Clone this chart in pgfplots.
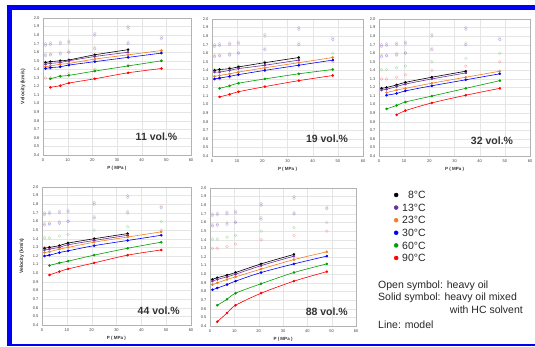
\documentclass[border=0pt]{standalone}
\usepackage{fontspec}
\setmainfont{Liberation Sans}
\usepackage{pgfplots}
\pgfplotsset{compat=1.18}
\definecolor{cPur}{RGB}{112,48,160}
\definecolor{cOra}{RGB}{240,128,32}
\definecolor{cBlu}{RGB}{0,0,255}
\definecolor{cGre}{RGB}{0,160,0}
\definecolor{cRed}{RGB}{255,0,0}
\definecolor{frameblue}{RGB}{0,0,245}

\pgfplotsset{
 panel/.style={
  scale only axis, width=148pt, height=137pt,
  xmin=0,xmax=60, ymin=0.4,ymax=2.0,
  xtick={0,10,20,30,40,50,60},
  ytick={0.4,0.5,0.6,0.7,0.8,0.9,1.0,1.1,1.2,1.3,1.4,1.5,1.6,1.7,1.8,1.9,2.0},
  grid=major, grid style={gray!20, line width=0.3pt},
  axis line style={gray!60, line width=0.4pt},
  tick style={draw=none},
  ticklabel style={font=\fontsize{4}{4}\selectfont, text=black!75},
  y tick label style={/pgf/number format/.cd, fixed, fixed zerofill, precision=1},
  /pgf/number format/assume math mode=true,
  xlabel={P ( MPa )},
  xlabel style={font=\fontsize{4.5}{5}\selectfont\bfseries, text=black!80, at={(axis description cs:0.5,-0.095)}, anchor=center},
  ylabel style={font=\fontsize{5}{6}\selectfont\bfseries, text=black!80, at={(axis description cs:-0.135,0.5)}, anchor=center, rotate=0},
  anchor=north west,
 },
}
\tikzset{vlab/.style={font=\fontsize{10.5}{12}\selectfont\bfseries, text=black!80}}

\newcommand{\openoil}{%
 \addplot[only marks, mark=o, mark size=1.4pt, cPur!60!gray, opacity=0.3, forget plot] coordinates {(1,1.70)(3,1.71)(7,1.72)(10.5,1.73)(21,1.82)(34.5,1.90)};
 \addplot[only marks, mark=o, mark size=1.4pt, cPur, opacity=0.3, forget plot] coordinates {(1,1.68)(3,1.69)(7,1.70)(10.5,1.71)(21,1.80)(34.5,1.88)};
 \addplot[only marks, mark=o, mark size=1.4pt, cOra, opacity=0.3, forget plot] coordinates {(1,1.58)(3,1.58)(7,1.60)(10.5,1.61)(21,1.66)(34.5,1.72)(48,1.78)};
 \addplot[only marks, mark=o, mark size=1.4pt, cBlu, opacity=0.3, forget plot] coordinates {(1,1.56)(3,1.57)(7,1.58)(10.5,1.60)(21,1.64)(34.5,1.70)(48,1.76)};
 \addplot[only marks, mark=o, mark size=1.4pt, cGre, opacity=0.3, forget plot] coordinates {(1,1.41)(3,1.41)(7,1.43)(10.5,1.45)(21,1.50)(34.5,1.54)(48,1.60)};
 \addplot[only marks, mark=o, mark size=1.4pt, cRed, opacity=0.3, forget plot] coordinates {(1,1.30)(3,1.30)(7,1.32)(10.5,1.35)(21,1.40)(34.5,1.45)(48,1.50)};
}
\newcommand{\ser}[2]{%
 \addplot[#1, line width=0.6pt, smooth, forget plot] coordinates {#2};
 \addplot[#1, only marks, mark=*, mark size=1.1pt] coordinates {#2};
}

\begin{document}
\begin{tikzpicture}
\useasboundingbox (0pt,0pt) rectangle (535pt,347pt);
\fill[white] (0pt,0pt) rectangle (535pt,347pt);
\fill[frameblue] (7pt,337pt) rectangle (535pt,342pt);
\fill[frameblue] (7pt,1pt) rectangle (12pt,342pt);
\fill[frameblue] (7pt,1pt) rectangle (535pt,2.5pt);

% Panel 1: 11 vol.%
\begin{axis}[panel, at={(43pt,329pt)}, ylabel={Velocity (km/s)}]
\openoil
\ser{black}{(1,1.48)(3,1.49)(7,1.50)(10.5,1.51)(21,1.57)(34.5,1.63)}
\ser{cPur}{(1,1.46)(3,1.47)(7,1.48)(10.5,1.50)(21,1.55)(34.5,1.60)}
\ser{cOra}{(1,1.43)(3,1.44)(7,1.46)(10.5,1.47)(21,1.52)(34.5,1.57)(48,1.62)}
\ser{cBlu}{(1,1.41)(3,1.42)(7,1.43)(10.5,1.45)(21,1.49)(34.5,1.54)(48,1.59)}
\ser{cGre}{(3,1.29)(7,1.32)(10.5,1.33)(21,1.38)(34.5,1.44)(48,1.50)}
\ser{cRed}{(3,1.19)(7,1.21)(10.5,1.24)(21,1.29)(34.5,1.36)(48,1.41)}
\node[vlab] at (axis cs:46,0.61) {11 vol.\%};
\end{axis}

% Panel 2: 19 vol.%
\begin{axis}[panel, at={(212pt,328pt)}, width=151pt]
\openoil
\ser{black}{(1,1.40)(3,1.41)(7,1.42)(10.5,1.44)(21,1.49)(34.5,1.55)}
\ser{cPur}{(1,1.38)(3,1.38)(7,1.40)(10.5,1.42)(21,1.46)(34.5,1.52)}
\ser{cOra}{(1,1.33)(3,1.34)(7,1.36)(10.5,1.38)(21,1.43)(34.5,1.49)(48,1.55)}
\ser{cBlu}{(1,1.30)(3,1.31)(7,1.33)(10.5,1.35)(21,1.40)(34.5,1.46)(48,1.52)}
\ser{cGre}{(3,1.19)(7,1.22)(10.5,1.25)(21,1.30)(34.5,1.36)(48,1.41)}
\ser{cRed}{(3,1.09)(7,1.12)(10.5,1.15)(21,1.21)(34.5,1.28)(48,1.34)}
\node[vlab] at (axis cs:45.7,0.60) {19 vol.\%};
\end{axis}

% Panel 3: 32 vol.%
\begin{axis}[panel, at={(379pt,328pt)}, width=151pt]
\openoil
\ser{black}{(1,1.19)(3,1.20)(7,1.23)(10.5,1.26)(21,1.32)(34.5,1.39)}
\ser{cPur}{(1,1.17)(3,1.18)(7,1.21)(10.5,1.24)(21,1.30)(34.5,1.37)}
\ser{cOra}{(3,1.14)(7,1.17)(10.5,1.19)(21,1.25)(34.5,1.32)(48,1.39)}
\ser{cBlu}{(3,1.11)(7,1.13)(10.5,1.16)(21,1.22)(34.5,1.29)(48,1.36)}
\ser{cGre}{(3,0.95)(7,0.99)(10.5,1.03)(21,1.10)(34.5,1.19)(48,1.28)}
\ser{cRed}{(7,0.88)(10.5,0.93)(21,1.02)(34.5,1.11)(48,1.19)}
\node[vlab] at (axis cs:44.9,0.58) {32 vol.\%};
\end{axis}

% Panel 4: 44 vol.%
\begin{axis}[panel, at={(42pt,160pt)}, width=149pt, height=138pt, ylabel={Velocity (km/s)}]
\openoil
\ser{black}{(1,1.29)(3,1.30)(7,1.32)(10.5,1.35)(21,1.40)(34.5,1.46)}
\ser{cPur}{(1,1.27)(3,1.28)(7,1.30)(10.5,1.33)(21,1.38)(34.5,1.44)}
\ser{cOra}{(1,1.24)(3,1.25)(7,1.28)(10.5,1.30)(21,1.36)(34.5,1.42)(48,1.48)}
\ser{cBlu}{(1,1.20)(3,1.21)(7,1.24)(10.5,1.26)(21,1.32)(34.5,1.38)(48,1.44)}
\ser{cGre}{(3,1.09)(7,1.12)(10.5,1.14)(21,1.21)(34.5,1.29)(48,1.36)}
\ser{cRed}{(3,0.98)(7,1.02)(10.5,1.05)(21,1.12)(34.5,1.21)(48,1.27)}
\node[vlab] at (axis cs:47,0.56) {44 vol.\%};
\end{axis}

% Panel 5: 88 vol.%
\begin{axis}[panel, at={(210pt,159pt)}, width=146pt, height=138pt,
  legend style={at={(1.26,0.978)}, anchor=north west, draw=none, fill=none,
    font=\fontsize{10.5}{12}\selectfont, row sep=5.1pt, column sep=4pt, inner sep=0pt,
    nodes={text height=7.5pt, text depth=0pt, inner sep=0pt, outer sep=0pt, text=black!85}},
  legend cell align=left,
  legend image code/.code={\draw[#1, mark size=2pt] plot coordinates {(0pt,0pt)};}]
\openoil
\ser{black}{(1,0.94)(3,0.96)(7,0.99)(10.5,1.02)(21,1.12)(34.5,1.23)}
\ser{cPur}{(1,0.92)(3,0.94)(7,0.97)(10.5,1.00)(21,1.10)(34.5,1.21)}
\ser{cOra}{(1,0.88)(3,0.90)(7,0.94)(10.5,0.97)(21,1.06)(34.5,1.17)(48,1.26)}
\ser{cBlu}{(1,0.82)(3,0.84)(7,0.88)(10.5,0.92)(21,1.02)(34.5,1.12)(48,1.21)}
\ser{cGre}{(3,0.64)(7,0.71)(10.5,0.78)(21,0.89)(34.5,1.02)(48,1.12)}
\ser{cRed}{(3,0.45)(7,0.55)(10.5,0.64)(21,0.78)(34.5,0.92)(48,1.03)}
\legend{\phantom{1}8°C,13°C,23°C,30°C,60°C,90°C}
\node[vlab] at (axis cs:48,0.56) {88 vol.\%};
\end{axis}

\begin{scope}[font=\fontsize{10.5}{12}\selectfont, text=black!85]
\node[anchor=base west, inner sep=0pt] at (378pt,58pt) {Open symbol: heavy oil};
\node[anchor=base west, inner sep=0pt] at (378pt,46pt) {Solid symbol: heavy oil mixed};
\node[anchor=base east, inner sep=0pt] at (523pt,33pt) {with HC solvent};
\node[anchor=base west, inner sep=0pt] at (378pt,18pt) {Line: model};
\end{scope}
\end{tikzpicture}
\end{document}
